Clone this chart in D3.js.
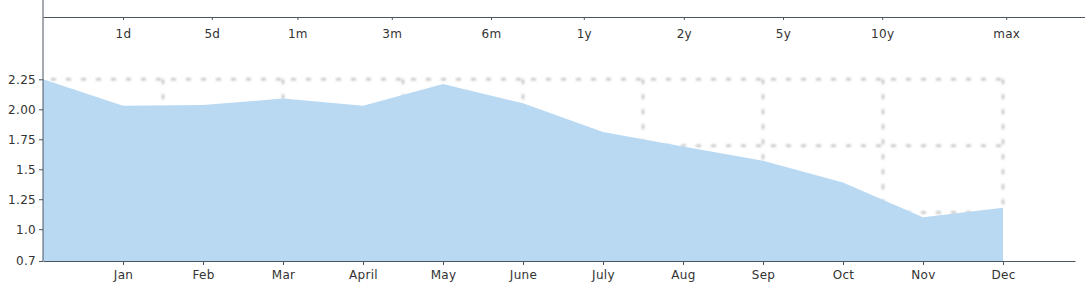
<!DOCTYPE html>
<html>
<head>
<meta charset="utf-8">
<script src="https://cdn.jsdelivr.net/npm/d3@7"></script>
<style>
  body { margin: 0; background: #fff; }
  svg text { font-family: "DejaVu Sans", Verdana, sans-serif; font-size: 12px; fill: #333; }
</style>
</head>
<body>
<svg id="chart" width="1085" height="284"></svg>
<script>
// months (index 0 is the starting point before Jan)
var months = ["", "Jan", "Feb", "Mar", "April", "May", "June", "July", "Aug", "Sep", "Oct", "Nov", "Dec"];
var values = [2.25, 2.03, 2.035, 2.09, 2.03, 2.21, 2.05, 1.81, 1.69, 1.57, 1.39, 1.10, 1.18];

// y ticks and their labels as shown
var yTicks = [0.735, 1.0, 1.25, 1.5, 1.75, 2.0, 2.25];
var yLabels = ["0.7", "1.0", "1.25", "1.5", "1.75", "2.00", "2.25"];

// period labels on the top axis, with their place in month units
var periods = ["1d", "5d", "1m", "3m", "6m", "1y", "2y", "5y", "10y", "max"];
var periodAt = [1.0, 2.11, 3.18, 4.36, 5.6, 6.76, 8.01, 9.25, 10.49, 12.04];

// dashed guide grid
var gridRows = [2.25, 1.695, 1.14];
var gridCols = [1.5, 3, 4.5, 6, 7.5, 9, 10.5, 12];

var svg = d3.select("#chart");

var x = d3.scaleLinear().domain([0, 12.9]).range([43, 1075]);
var y = d3.scaleLinear().domain([0.735, 2.25]).range([261, 79.3]);

var data = values.map(function(v, i){ return {i: i, v: v}; });

// blur for the soft dashed grid
var defs = svg.append("defs");
defs.append("filter").attr("id", "soft")
  .attr("x", "-5%").attr("y", "-5%").attr("width", "110%").attr("height", "110%")
  .append("feGaussianBlur").attr("stdDeviation", 1);

var grid = svg.append("g").attr("filter", "url(#soft)")
  .attr("stroke", "#c4c4c4").attr("stroke-width", 2.5)
  .attr("stroke-dasharray", "5,10");

grid.selectAll("line.row")
  .data(gridRows)
  .enter().append("line")
  .attr("class", "row")
  .attr("x1", x(0) + 8).attr("x2", x(12))
  .attr("y1", d => y(d)).attr("y2", d => y(d));

grid.selectAll("line.col")
  .data(gridCols)
  .enter().append("line")
  .attr("class", "col")
  .attr("x1", d => x(d)).attr("x2", d => x(d))
  .attr("y1", y(2.25)).attr("y2", y(1.14));

// area
var area = d3.area()
  .x(d => x(d.i))
  .y0(y(0.735))
  .y1(d => y(d.v));

svg.append("path")
  .datum(data)
  .attr("fill", "#b9d9f3")
  .attr("d", area);

// bottom axis
var xAxis = d3.axisBottom(x)
  .tickValues(d3.range(1, months.length))
  .tickFormat(d => months[d])
  .tickSize(4)
  .tickSizeOuter(0);
var xAxisEl = svg.append("g")
  .attr("transform", "translate(0," + y(0.735) + ")")
  .call(xAxis);
xAxisEl.selectAll("text").attr("y", 9).attr("dy", "0.71em");

// top axis
var topScale = d3.scaleLinear().domain([0, 13.025]).range([43, 1085]);
var topAxis = d3.axisBottom(topScale)
  .tickValues(periodAt)
  .tickFormat((d, i) => periods[i])
  .tickSize(3)
  .tickSizeOuter(0);
var topAxisEl = svg.append("g")
  .attr("transform", "translate(0,17)")
  .call(topAxis);
topAxisEl.selectAll("text").attr("y", 12).attr("dy", "0.71em");

// left axis
var yAxis = d3.axisLeft(y)
  .tickValues(yTicks)
  .tickFormat((d, i) => yLabels[i])
  .tickSize(4)
  .tickSizeOuter(0);
var yAxisEl = svg.append("g")
  .attr("transform", "translate(43,0)")
  .call(yAxis);
yAxisEl.selectAll("text").attr("x", -7);
yAxisEl.select(".domain").attr("d", "M0,0V" + y(0.735));

svg.selectAll(".domain").attr("stroke", "#4a5560");
svg.selectAll(".tick line").attr("stroke", "#4a5560");
svg.selectAll(".tick text").attr("fill", "#333").style("font-size", "12px")
  .style("letter-spacing", "0.3px")
  .style("font-family", "'DejaVu Sans', Verdana, sans-serif");
</script>
</body>
</html>
